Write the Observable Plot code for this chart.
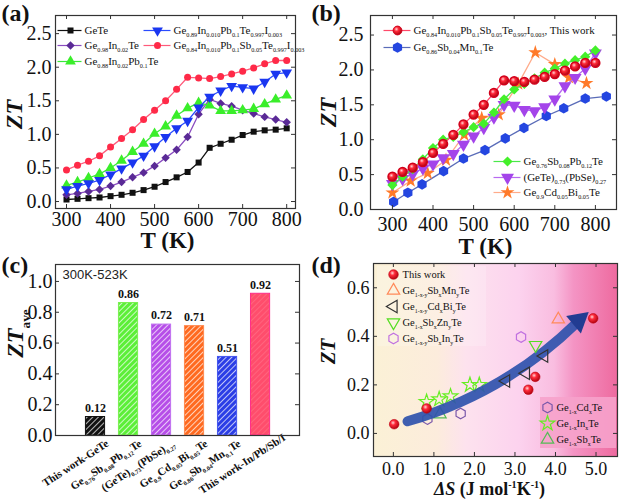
<!DOCTYPE html>
<html><head><meta charset="utf-8">
<script src="https://cdn.jsdelivr.net/npm/d3@7"></script>
<script src="https://cdn.jsdelivr.net/npm/@observablehq/plot@0.6"></script>
<style>
body{margin:0;background:#fff}
#wrap{position:relative;width:620px;height:499px;overflow:hidden;background:#fff}
#wrap svg{position:absolute;left:0;top:0;background:none !important;font-family:"Liberation Serif","Times New Roman",serif !important;}
</style></head><body>
<svg width="0" height="0" style="position:absolute;left:0;top:0">
<defs>
<radialGradient id="sphere" cx="0.38" cy="0.35" r="0.7">
 <stop offset="0" stop-color="#ffd6d6"/>
 <stop offset="0.35" stop-color="#ff2a3a"/>
 <stop offset="1" stop-color="#a8000c"/>
</radialGradient>
<linearGradient id="bgD" x1="0" x2="1" y1="0" y2="0">
 <stop offset="0" stop-color="#fbf1d6"/>
 <stop offset="0.26" stop-color="#fcecdc"/>
 <stop offset="0.38" stop-color="#fde2ee"/>
 <stop offset="0.6" stop-color="#fcd2ee"/>
 <stop offset="0.74" stop-color="#f9bde0"/>
 <stop offset="0.82" stop-color="#f494c4"/>
 <stop offset="1" stop-color="#ee6a9f"/>
</linearGradient>
<pattern id="h0" patternUnits="userSpaceOnUse" width="4" height="4" patternTransform="rotate(45)"><rect width="4" height="4" fill="#111"/><line x1="0" y1="0" x2="0" y2="4" stroke="#fff" stroke-width="1.4"/></pattern>
<pattern id="h1" patternUnits="userSpaceOnUse" width="4" height="4" patternTransform="rotate(45)"><rect width="4" height="4" fill="#5cef38"/><line x1="0" y1="0" x2="0" y2="4" stroke="#fff" stroke-width="1.4"/></pattern>
<pattern id="h2" patternUnits="userSpaceOnUse" width="4" height="4" patternTransform="rotate(45)"><rect width="4" height="4" fill="#b64ee8"/><line x1="0" y1="0" x2="0" y2="4" stroke="#fff" stroke-width="1.4"/></pattern>
<pattern id="h3" patternUnits="userSpaceOnUse" width="4" height="4" patternTransform="rotate(45)"><rect width="4" height="4" fill="#ff6a20"/><line x1="0" y1="0" x2="0" y2="4" stroke="#fff" stroke-width="1.4"/></pattern>
<pattern id="h4" patternUnits="userSpaceOnUse" width="4" height="4" patternTransform="rotate(45)"><rect width="4" height="4" fill="#2b3ee6"/><line x1="0" y1="0" x2="0" y2="4" stroke="#fff" stroke-width="1.4"/></pattern>
<pattern id="h5" patternUnits="userSpaceOnUse" width="4" height="4" patternTransform="rotate(45)"><rect width="4" height="4" fill="#ff4d6c"/><line x1="0" y1="0" x2="0" y2="4" stroke="#ff7a90" stroke-width="1"/></pattern>
</defs></svg>
<div id="wrap"></div>
<script>
// ================= DATA =================
// (a) ZT vs T
const tempA = [300,325,350,375,400,425,450,475,500,525,550,575,600,625,650,675,700,725,750,775,800];
const ztGeTe   = [0.03,0.04,0.05,0.06,0.08,0.10,0.13,0.17,0.22,0.29,0.36,0.44,0.58,0.80,0.86,0.92,0.99,1.04,1.06,1.07,1.09];
const ztIn     = [0.10,0.12,0.15,0.18,0.23,0.29,0.36,0.43,0.53,0.65,0.77,0.96,1.30,1.52,1.46,1.42,1.36,1.31,1.26,1.22,1.18];
const ztInPb   = [0.24,0.29,0.35,0.41,0.50,0.61,0.74,0.86,1.01,1.12,1.28,1.39,1.47,1.43,1.35,1.35,1.36,1.38,1.45,1.52,1.58];
const ztInPbI  = [0.18,0.23,0.27,0.32,0.40,0.49,0.58,0.68,0.82,0.96,1.09,1.20,1.40,1.56,1.65,1.72,1.70,1.68,1.78,1.90,1.92];
const ztThis   = [0.47,0.54,0.60,0.68,0.81,0.94,1.07,1.22,1.36,1.50,1.67,1.85,1.84,1.83,1.86,1.90,1.94,1.99,2.05,2.10,2.10];
const labelsA1 = ["GeTe", "Ge_{0.98}In_{0.02}Te", "Ge_{0.88}In_{0.02}Pb_{0.1}Te"];
const labelsA2 = ["Ge_{0.89}In_{0.010}Pb_{0.1}Te_{0.997}I_{0.003}", "Ge_{0.84}In_{0.010}Pb_{0.1}Sb_{0.05}Te_{0.997}I_{0.003}"];

// (b) comparison
const tempMn = [303,338,373,426,475,528,578,624,679,722,775,827];
const ztMn   = [0.11,0.24,0.36,0.55,0.73,0.85,1.02,1.17,1.34,1.45,1.59,1.62];
const ztSbPb = [0.35,0.47,0.58,0.72,0.88,1.00,1.04,1.11,1.18,1.23,1.39,1.58,1.72,1.80,1.88,1.96,2.02,2.09,2.14,2.19,2.28];
const ztPbSe = [0.37,0.44,0.51,0.59,0.65,0.74,0.80,0.93,1.05,1.17,1.32,1.50,1.49,1.43,1.41,1.47,1.58,1.77,1.89,2.02,2.24];
const tempCd = [300,345,387,432,477,520,562,610,652,700,735,778];
const ztCd   = [0.24,0.41,0.52,0.71,1.07,1.31,1.36,1.80,2.25,2.08,1.89,1.81];
const labelsB1 = ["Ge_{0.84}In_{0.010}Pb_{0.1}Sb_{0.05}Te_{0.997}I_{0.003}, This work", "Ge_{0.86}Sb_{0.04}Mn_{0.1}Te"];
const labelsB2 = ["Ge_{0.76}Sb_{0.08}Pb_{0.12}Te", "(GeTe)_{0.73}(PbSe)_{0.27}", "Ge_{0.9}Cd_{0.05}Bi_{0.05}Te"];

// (c) average ZT
const catsC = ["This work-GeTe", "Ge_{0.76}Sb_{0.08}Pb_{0.12}Te", "(GeTe)_{0.73}(PbSe)_{0.27}", "Ge_{0.9}Cd_{0.05}Bi_{0.05}Te", "Ge_{0.86}Sb_{0.04}Mn_{0.1}Te", "This work-In/Pb/Sb/I"];
const ztAve = [0.12, 0.86, 0.72, 0.71, 0.51, 0.92];
const fillsC = ["url(#h0)","url(#h1)","url(#h2)","url(#h3)","url(#h4)","url(#h5)"];
const edgesC = ["#111","#7af050","#c070f0","#ff8a50","#4455ee","#ff2d8a"];

// (d) ZT vs entropy change
const dsThis = [0.02, 0.82, 3.33, 3.50, 4.93];   const ztThisD = [0.038, 0.103, 0.180, 0.233, 0.474];
const dsSbMn = [4.07];                           const ztSbMn  = [0.47];
const dsCdBi = [2.78, 3.27, 3.72];               const ztCdBi  = [0.216, 0.248, 0.319];
const dsSbZn = [3.51];                           const ztSbZn  = [0.364];
const dsSbIn = [3.15];                           const ztSbIn  = [0.397];
const dsCdTe = [0.84, 1.66];                     const ztCdTe  = [0.059, 0.082];
const dsInTe = [0.82, 1.13, 1.41, 1.89, 2.12];   const ztInTe  = [0.130, 0.141, 0.153, 0.200, 0.200];
const dsSbTe = [1.15];                           const ztSbTe  = [0.079];
const labelsD1 = ["This work", "Ge_{1-x-y}Sb_{x}Mn_{y}Te", "Ge_{1-x-y}Cd_{x}Bi_{y}Te", "Ge_{1-x}Sb_{x}Zn_{y}Te", "Ge_{1-x-y}Sb_{x}In_{y}Te"];
const labelsD2 = ["Ge_{1-x}Cd_{x}Te", "Ge_{1-x}In_{x}Te", "Ge_{1-x}Sb_{x}Te"];
const trendArrow = [{x1: 0.35, y1: 0.05, x2: 4.52, y2: 0.455}];
const trendHead = [{x: 4.57, y: 0.465}];

// ================= HELPERS =================
const W = 620, H = 499;
const SERIF = "Liberation Serif, Times New Roman, serif";
const SUBR = 0.56;

function mapper(p) {
  const X = px => p.xd[0] + (px - p.left) / (p.right - p.left) * (p.xd[1] - p.xd[0]);
  const Y = py => p.yd[1] - (py - p.top) / (p.bottom - p.top) * (p.yd[1] - p.yd[0]);
  return {X, Y};
}
function inTicks(p, xt, yt, len = 4) {
  const dx = len / (p.right - p.left) * (p.xd[1] - p.xd[0]);
  const dy = len / (p.bottom - p.top) * (p.yd[1] - p.yd[0]);
  const s = {stroke: "#333", strokeWidth: 1};
  const m = [];
  if (xt) m.push(
    Plot.ruleX(xt, {x: d => d, y1: p.yd[0], y2: p.yd[0] + dy, ...s}),
    Plot.ruleX(xt, {x: d => d, y1: p.yd[1], y2: p.yd[1] - dy, ...s}));
  if (yt) m.push(
    Plot.ruleY(yt, {y: d => d, x1: p.xd[0], x2: p.xd[0] + dx, ...s}),
    Plot.ruleY(yt, {y: d => d, x1: p.xd[1], x2: p.xd[1] - dx, ...s}));
  return m;
}
function legend(p, labels, styles, rows, lay) {
  const {X, Y} = mapper(p);
  const m = [];
  labels.forEach((lab, i) => {
    const st = styles[i], y = Y(rows[i]);
    if (lay.x1 != null) m.push(Plot.link([0], {x1: X(lay.x1), x2: X(lay.x2), y1: y, y2: y, stroke: st.line, strokeWidth: 1.2}));
    m.push(Plot.dot([0], {x: X(lay.xm), y, symbol: st.symbol, r: st.r, fill: st.fill || "none", stroke: st.stroke || "none", strokeWidth: st.sw || 1, rotate: st.rotate || 0}));
    m.push(Plot.text([lab], {x: X(lay.xt), y, text: d => d, textAnchor: "start", fontSize: lay.fs || 11, fontFamily: SERIF, fill: "#111"}));
  });
  return m;
}
function richify(svg) {
  for (const el of svg.querySelectorAll("text")) {
    if (el.querySelector("tspan")) continue;
    const s = el.textContent;
    if (!/[_^]\{|\*/.test(s)) continue;
    const fs = parseFloat(getComputedStyle(el).fontSize) || 12;
    const segs = []; let i = 0, italic = false, buf = "";
    const flush = () => { if (buf) segs.push({t: buf, mode: null, italic}); buf = ""; };
    while (i < s.length) {
      const c = s[i];
      if ((c === "_" || c === "^") && s[i + 1] === "{") {
        flush();
        const j = s.indexOf("}", i);
        segs.push({t: s.slice(i + 2, j), mode: c === "_" ? "sub" : "sup", italic});
        i = j + 1;
      } else if (c === "*") { flush(); italic = !italic; i++; }
      else { buf += c; i++; }
    }
    flush();
    el.textContent = "";
    let cur = 0;
    for (const seg of segs) {
      const ts = document.createElementNS("http://www.w3.org/2000/svg", "tspan");
      const target = seg.mode === "sub" ? 0.28 * fs : seg.mode === "sup" ? -0.4 * fs : 0;
      if (target !== cur) ts.setAttribute("dy", (target - cur).toFixed(2));
      cur = target;
      if (seg.mode) ts.setAttribute("font-size", (fs * SUBR).toFixed(1));
      ts.setAttribute("font-style", seg.italic ? "italic" : "normal");
      ts.textContent = seg.t;
      el.appendChild(ts);
    }
  }
}
function render(p, marks) {
  const svg = Plot.plot({
    width: W, height: H,
    marginLeft: p.left, marginRight: W - p.right, marginTop: p.top, marginBottom: H - p.bottom,
    x: {domain: p.xd, axis: null}, y: {domain: p.yd, axis: null},
    style: {background: "none", fontFamily: SERIF, fontSize: (p.tickFs || 20) + "px", color: "#111", overflow: "visible"},
    marks
  });
  svg.setAttribute("font-family", SERIF);
  document.getElementById("wrap").appendChild(svg);
  richify(svg);
}
const bold = {fontWeight: "bold", fill: "#111", fontFamily: SERIF};
const axisFont = {fontFamily: SERIF};

// ================= PANEL (a) =================
{
  const p = {left: 55, right: 295, top: 15, bottom: 208, xd: [275, 820], yd: [-0.104, 2.77]};
  const {X, Y} = mapper(p);
  const xt = [300, 400, 500, 600, 700, 800], yt = [0, 0.5, 1, 1.5, 2, 2.5];
  const series = [
    {v: ztGeTe,  line: "#111",    fill: "#111",    symbol: "square",   r: 3.4},
    {v: ztIn,    line: "#8a4cc0", fill: "#5a2a96", symbol: "diamond2", r: 3.8},
    {v: ztInPb,  line: "#3ae83a", fill: "#3aee2a", symbol: "triangle", r: 4},
    {v: ztInPbI, line: "#2a4cff", fill: "#1a36f0", symbol: "triangle", r: 4, rotate: 180},
    {v: ztThis,  line: "#ff5a7a", fill: "#ff2a48", symbol: "circle",   r: 3.5}
  ];
  const marks = [];
  for (const s of series) {
    marks.push(Plot.line(tempA, {x: d => d, y: (d, i) => s.v[i], stroke: s.line, strokeWidth: 1.3}));
    marks.push(Plot.dot(tempA, {x: d => d, y: (d, i) => s.v[i], symbol: s.symbol, r: s.r, fill: s.fill, rotate: s.rotate || 0}));
  }
  const st = series.map(s => ({line: s.line, fill: s.fill, symbol: s.symbol, r: s.r, rotate: s.rotate}));
  marks.push(...legend(p, labelsA1, st.slice(0, 3), [30, 45, 61], {x1: 57, x2: 81, xm: 70, xt: 84}));
  marks.push(...legend(p, labelsA2, st.slice(3), [30, 45], {x1: 143, x2: 170, xm: 157, xt: 173}));
  marks.push(
    ...inTicks(p, xt, yt),
    Plot.frame({stroke: "#333", strokeWidth: 1.2}),
    Plot.axisX({ticks: xt, tickSize: 0, tickPadding: 3, label: null, ...axisFont}),
    Plot.axisY({ticks: yt, tickSize: 0, tickPadding: 4, tickFormat: d3.format(".1f"), label: null, ...axisFont}),
    Plot.text(["*ZT*"], {x: X(14), y: Y(114), text: d => d, rotate: -90, fontSize: 24, ...bold}),
    Plot.text(["T (K)"], {x: X(167), y: Y(240), text: d => d, fontSize: 23, ...bold}),
    Plot.text(["(a)"], {x: X(1), y: Y(13), text: d => d, textAnchor: "start", fontSize: 24, ...bold})
  );
  render(p, marks);
}

// ================= PANEL (b) =================
{
  const p = {left: 370, right: 616, top: 15, bottom: 209, xd: [246, 852], yd: [0, 2.78]};
  const {X, Y} = mapper(p);
  const xt = [300, 400, 500, 600, 700, 800], yt = [0, 0.5, 1, 1.5, 2, 2.5];
  const series = [
    {x: tempMn, v: ztMn,   line: "#5a6cb8", fill: "#2446e0", symbol: "hexagon",  r: 4.6},
    {x: tempCd, v: ztCd,   line: "#ffab8a", fill: "#ff7a2a", symbol: "star",     r: 4.4},
    {x: tempA,  v: ztPbSe, line: "#b86af0", fill: "#a444ea", symbol: "triangle", r: 4.8, rotate: 180},
    {x: tempA,  v: ztSbPb, line: "#4ae84a", fill: "#44f02a", symbol: "diamond2", r: 4.6},
    {x: tempA,  v: ztThis, line: "#ff4a6a", fill: "url(#sphere)", stroke: "#d0001a", symbol: "circle", r: 4.4}
  ];
  const marks = [];
  for (const s of series) {
    marks.push(Plot.line(s.x, {x: d => d, y: (d, i) => s.v[i], stroke: s.line, strokeWidth: 1.3}));
    marks.push(Plot.dot(s.x, {x: d => d, y: (d, i) => s.v[i], symbol: s.symbol, r: s.r, fill: s.fill, stroke: s.stroke || "none", rotate: s.rotate || 0}));
  }
  const st = series.map(s => ({line: s.line, fill: s.fill, stroke: s.stroke, symbol: s.symbol, r: s.r, rotate: s.rotate}));
  marks.push(...legend(p, labelsB1, [st[4], st[0]], [30, 47], {x1: 383, x2: 410, xm: 397, xt: 413}));
  marks.push(...legend(p, labelsB2, [st[3], st[2], st[1]], [161, 177, 192], {x1: 493, x2: 520, xm: 507, xt: 523}));
  marks.push(
    ...inTicks(p, xt, yt),
    Plot.frame({stroke: "#333", strokeWidth: 1.2}),
    Plot.axisX({ticks: xt, tickSize: 0, tickPadding: 7, label: null, ...axisFont}),
    Plot.axisY({ticks: yt, tickSize: 0, tickPadding: 7, tickFormat: d3.format(".1f"), label: null, ...axisFont}),
    Plot.text(["*ZT*"], {x: X(328), y: Y(112), text: d => d, rotate: -90, fontSize: 24, ...bold}),
    Plot.text(["T (K)"], {x: X(485), y: Y(246), text: d => d, fontSize: 23, ...bold}),
    Plot.text(["(b)"], {x: X(311), y: Y(13), text: d => d, textAnchor: "start", fontSize: 24, ...bold})
  );
  render(p, marks);
}

// ================= PANEL (c) =================
{
  const p = {left: 55, right: 299, top: 264, bottom: 435, xd: [-0.212, 7.18], yd: [0, 1.11]};
  const {X, Y} = mapper(p);
  const yt = [0, 0.2, 0.4, 0.6, 0.8, 1.0];
  const n = catsC.length;
  const marks = [];
  ztAve.forEach((v, i) => {
    marks.push(Plot.rectY([v], {x1: i + 1 - 0.29, x2: i + 1 + 0.29, y: d => d, fill: fillsC[i], stroke: edgesC[i], strokeWidth: 1}));
  });
  const catRot = {text: d => d.c, rotate: -33, textAnchor: "end", fontSize: 11, ...bold};
  const catRows = catsC.map((c, i) => ({c, i}));
  marks.push(
    Plot.text(ztAve, {x: (d, i) => i + 1, y: d => d, text: d => d.toFixed(2), dy: -9, fontSize: 12, ...bold}),
    Plot.text(catRows.slice(0, n - 1), {x: d => d.i + 1, y: 0, dx: 12, dy: 7, ...catRot}),
    Plot.text(catRows.slice(n - 1), {x: d => d.i + 1, y: 0, dx: 24, dy: 1, ...catRot}),
    Plot.text(["300K-523K"], {x: X(62), y: Y(274), text: d => d, textAnchor: "start", fontSize: 13, fontFamily: "Liberation Sans, Arial, sans-serif", fill: "#222"}),
    ...inTicks(p, null, yt),
    Plot.frame({stroke: "#333", strokeWidth: 1.2}),
    Plot.axisY({ticks: yt, tickSize: 0, tickPadding: 3, tickFormat: d3.format(".1f"), label: null, ...axisFont}),
    Plot.text(["*ZT*_{ave}"], {x: X(15), y: Y(333), text: d => d, rotate: -90, fontSize: 24, ...bold}),
    Plot.text(["(c)"], {x: X(1), y: Y(265), text: d => d, textAnchor: "start", fontSize: 24, ...bold})
  );
  render(p, marks);
}

// ================= PANEL (d) =================
{
  const p = {left: 373, right: 617, top: 263, bottom: 456, xd: [-0.49, 5.53], yd: [-0.095, 0.70], tickFs: 18};
  const {X, Y} = mapper(p);
  const xt = [0, 1, 2, 3, 4, 5], yt = [0, 0.2, 0.4, 0.6];
  const open = (stroke, symbol, rotate = 0) => ({stroke, symbol, rotate, r: 4.6, fill: "none", sw: 1.2});
  const stThis = {symbol: "circle", r: 4.8, fill: "url(#sphere)", stroke: "#c00010", sw: 0.6};
  const stSbMn = open("#ff8a5a", "triangle");
  const stCdBi = open("#333", "triangle", -90);
  const stSbZn = open("#55dd22", "triangle", 180);
  const stSbIn = open("#c070e0", "hexagon");
  const stCdTe = open("#7a58aa", "hexagon");
  const stInTe = open("#66ee22", "star");
  const stSbTe = open("#55bb55", "triangle");
  const pts = (xs, ys, s) => Plot.dot(xs, {x: d => d, y: (d, i) => ys[i], symbol: s.symbol, r: s.r, fill: s.fill, stroke: s.stroke, strokeWidth: s.sw, rotate: s.rotate || 0});
  const marks = [
    Plot.frame({fill: "url(#bgD)", stroke: "none"}),
    Plot.rect([0], {x1: X(377), x2: X(486), y1: Y(266), y2: Y(346), fill: "#fff", fillOpacity: 0.2}),
    Plot.rect([0], {x1: X(540), x2: X(616), y1: Y(397), y2: Y(448), fill: "#f6a2cb", fillOpacity: 0.9}),
    pts(dsCdTe, ztCdTe, stCdTe),
    pts(dsInTe, ztInTe, stInTe),
    pts(dsSbTe, ztSbTe, stSbTe),
    Plot.arrow(trendArrow, {x1: "x1", y1: "y1", x2: "x2", y2: "y2", bend: -14, headLength: 0, stroke: "#2f52ad", strokeWidth: 10, strokeOpacity: 0.92}),
    Plot.dot(trendHead, {x: "x", y: "y", symbol: "triangle", r: 8.5, rotate: 50, fill: "#223c92"}),
    pts(dsThis, ztThisD, stThis),
    pts(dsSbMn, ztSbMn, stSbMn),
    pts(dsCdBi, ztCdBi, stCdBi),
    pts(dsSbZn, ztSbZn, stSbZn),
    pts(dsSbIn, ztSbIn, stSbIn),
    ...legend(p, labelsD1, [stThis, stSbMn, stCdBi, stSbZn, stSbIn], [274, 290, 306, 322, 338], {xm: 393, xt: 402, fs: 10.5}),
    ...legend(p, labelsD2, [stCdTe, stInTe, stSbTe], [407, 423, 439], {xm: 547, xt: 556, fs: 10.5}),
    ...inTicks(p, xt, yt),
    Plot.frame({stroke: "#333", strokeWidth: 1.2}),
    Plot.axisX({ticks: xt, tickSize: 0, tickPadding: 6, label: null, ...axisFont}),
    Plot.axisY({ticks: yt, tickSize: 0, tickPadding: 4, tickFormat: d3.format(".1f"), label: null, ...axisFont}),
    Plot.text(["*ZT*"], {x: X(328), y: Y(351), text: d => d, rotate: -90, fontSize: 21, ...bold}),
    Plot.text(["*ΔS* (J mol^{-1}K^{-1})"], {x: X(489), y: Y(489), text: d => d, fontSize: 18, ...bold}),
    Plot.text(["(d)"], {x: X(311), y: Y(265), text: d => d, textAnchor: "start", fontSize: 24, ...bold})
  ];
  render(p, marks);
}
</script>
</body></html>
